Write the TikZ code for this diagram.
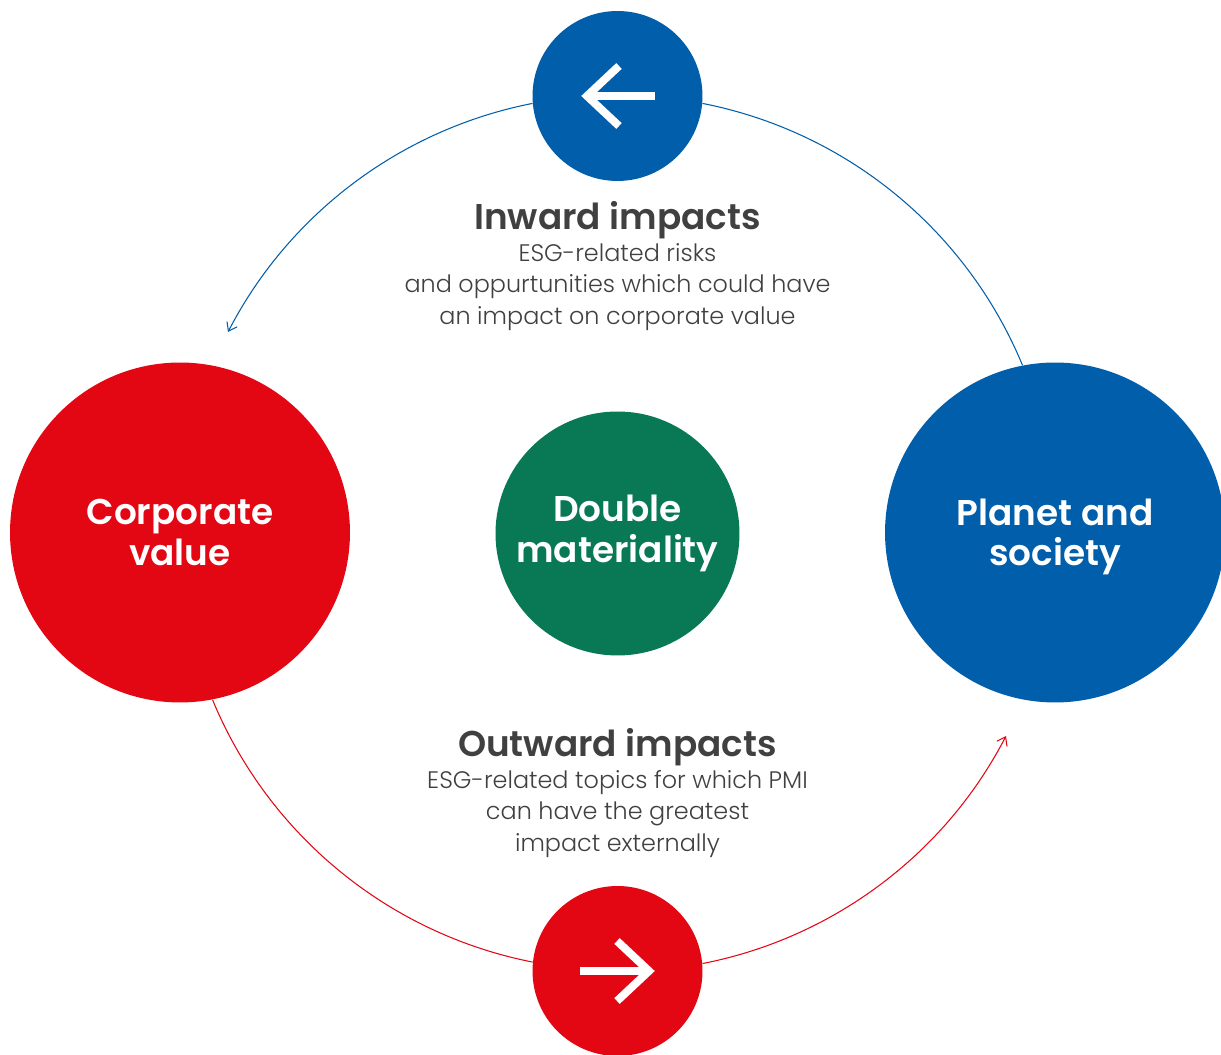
\documentclass[tikz,border=0pt]{standalone}
\usepackage{fontspec}
\setmainfont{Poppins}[UprightFont=* Light,BoldFont=* SemiBold]
\usetikzlibrary{arrows.meta}
\definecolor{pmiblue}{HTML}{005EAB}
\definecolor{pmired}{HTML}{E30613}
\definecolor{pmigreen}{HTML}{087855}
\definecolor{pmigrey}{HTML}{404040}
\tikzset{
  disc/.style={circle, inner sep=0pt, align=center, text=white, font=\fontsize{20.4}{22.9}\selectfont\bfseries},
  heading/.style={text=pmigrey, inner sep=0pt, font=\fontsize{20.4}{22.9}\selectfont\bfseries},
  body/.style={text=pmigrey, inner sep=0pt, align=center, font=\fontsize{13.6}{18.1}\selectfont},
  whitearrow/.style={draw=white, line width=4.5pt},
  loopline/.style={line width=0.6pt, -{Straight Barb[length=4.5pt,width=6.5pt]}}
}
\begin{document}
\begin{tikzpicture}[x=0.02cm, y=0.02cm]
      \useasboundingbox (0, 0) rectangle (1221, 1055);
      \node[disc, fill=pmiblue, minimum size=3.4cm] (inward) at (617.5, 959) {};
      \node[disc, fill=pmired, minimum size=3.4cm] (outward) at (617.5, 84) {};
      \node[disc, fill=pmired, minimum size=6.8cm] (corporate) at (180, 522.5) {Corporate\\value};
      \node[disc, fill=pmiblue, minimum size=6.8cm] (planet) at (1055, 522.5) {Planet and\\\smash{society}};
      \node[disc, fill=pmigreen, minimum size=4.88cm] (double) at (617.5, 521.5) {Double\\materiality};
      \coordinate (inwardend) at (228, 723);
      \coordinate (outwardend) at (1006, 319);
      % the two halves of the ring
      \draw[loopline, -, draw=pmiblue] (planet.101.2) to[bend right=28.2, looseness=0.905] (inward.-5.4);
      \draw[loopline, draw=pmiblue] (inward.185.4) to[bend right=25.8, looseness=0.897] (inwardend);
      \draw[loopline, -, draw=pmired] (corporate.-79.2) to[bend right=28.2, looseness=0.905] (outward.174.6);
      \draw[loopline, draw=pmired] (outward.5.4) to[bend right=25.8, looseness=0.897] (outwardend);
      % arrows inside the small discs
      \draw[whitearrow] (655, 959) -- (587, 959);
      \draw[whitearrow] (619, 989) -- (587, 959) -- (619, 929);
      \draw[whitearrow] (580, 84) -- (649, 84);
      \draw[whitearrow] (617, 114) -- (649, 84) -- (617, 54);
      \node[heading] (inwardtitle) at (617.5, 835) {Inward impacts};
      \node[body] (inwardtext) at (617.5, 768) {ESG-related risks\\and oppurtunities which could have\\an impact on corporate value};
      \node[heading] (outwardtitle) at (617.5, 308) {Outward impacts};
      \node[body] (outwardtext) at (617.5, 241) {ESG-related topics for which PMI\\can have the greatest\\impact externally};
    \end{tikzpicture}
\end{document}
